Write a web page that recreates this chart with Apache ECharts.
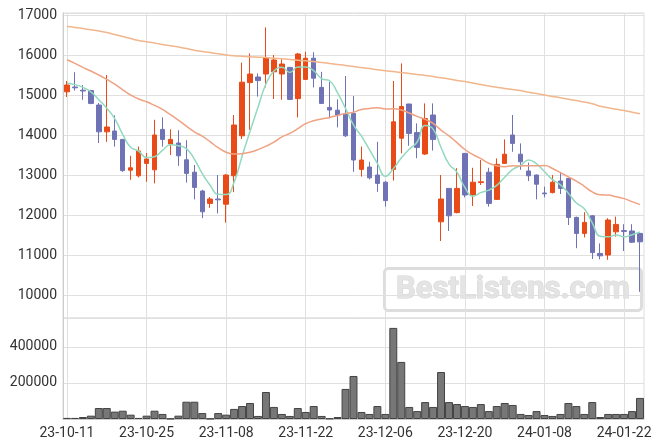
<!DOCTYPE html>
<html><head><meta charset="utf-8">
<script src="https://cdn.jsdelivr.net/npm/echarts@6/dist/echarts.min.js"></script>
<style>html,body{margin:0;padding:0;background:#fff}#c{width:663px;height:448px}</style>
</head><body><div id="c"></div>
<script>
const dates = ['23-10-11','23-10-12','23-10-13','23-10-16','23-10-17','23-10-18','23-10-19','23-10-20','23-10-23','23-10-24','23-10-25','23-10-26','23-10-27','23-10-30','23-10-31',
'23-11-01','23-11-02','23-11-03','23-11-06','23-11-07','23-11-08','23-11-09','23-11-10','23-11-13','23-11-14','23-11-15','23-11-16','23-11-17','23-11-20','23-11-21','23-11-22','23-11-23','23-11-24','23-11-27','23-11-28','23-11-29','23-11-30',
'23-12-01','23-12-04','23-12-05','23-12-06','23-12-07','23-12-08','23-12-11','23-12-12','23-12-13','23-12-14','23-12-15','23-12-18','23-12-19','23-12-20','23-12-21','23-12-22','23-12-26','23-12-27','23-12-28',
'24-01-02','24-01-03','24-01-04','24-01-05','24-01-08','24-01-09','24-01-10','24-01-11','24-01-12','24-01-15','24-01-16','24-01-17','24-01-18','24-01-19','24-01-22','24-01-23','24-01-24'];
const open = [15080,15200,15120,15110,14750,14080,14100,13890,13120,12980,13290,13130,14140,13775,13800,13380,13070,12600,12290,12400,12270,12980,13980,15310,15450,15525,15580,15525,15690,14910,15390,15920,15190,14690,14620,14525,14540,13140,13200,13000,12820,13140,13920,14775,14060,13525,14500,11830,12665,12060,13540,12500,12810,13070,12390,13290,14000,13520,13100,13000,12550,12560,12850,12915,11940,11540,11980,11040,11000,11580,11610,11600,11540];
const close = [15250,15180,15100,14790,14080,14200,13890,13110,13180,13600,13400,14000,13890,13890,13480,13040,12690,12080,12400,12380,13000,14250,15320,15525,15360,15925,15875,15775,14890,16025,15920,15420,14790,14625,14500,13980,13375,13375,12930,12790,12360,14330,14710,14040,13690,14410,13890,12400,11980,12665,12500,12820,12830,12290,13265,13520,13790,13330,12980,12770,12530,12820,12665,11940,11540,11815,11060,10980,11875,11765,11590,11320,11330];
const low = [14950,15110,14880,14770,13800,13830,13710,13080,12880,12940,12830,12790,13710,13500,13230,12810,12390,11920,12180,12040,11810,12570,13900,14130,14960,15190,14900,14880,14880,14440,15380,15190,14780,14420,14190,13950,13080,12960,12890,12580,12210,12860,13540,13730,13420,13500,13610,11350,11600,12040,12440,12225,12750,12210,12380,13280,13580,13130,12850,12390,12440,12540,12525,11750,11170,11440,10900,10890,10880,11460,11100,11300,10080];
const high = [15350,15570,15250,15130,14800,15500,14490,13900,13480,13710,13550,14380,14440,14140,14120,13870,13250,12630,12450,13000,13020,14500,15810,16040,15540,16690,16000,15890,15700,16050,16080,16070,15580,15330,14890,15475,14975,13710,13330,13830,12850,15350,15790,14780,14290,14790,14790,13000,12670,13170,13550,13180,13375,13180,13415,13890,14500,13790,13310,13010,12710,13000,13080,12920,11960,12070,12000,11290,11920,11960,11770,11770,11560];
const volume = [6000,6000,11000,18500,61000,61000,41000,46000,24000,6000,18500,46000,28000,2000,18500,96000,96000,33000,2000,33000,24000,56000,72000,89000,17000,150000,67000,28000,17000,61000,39000,72000,17000,3000,11000,167000,239000,39000,28000,72000,28000,506000,317000,67000,44000,94000,67000,261000,94000,83000,72000,67000,83000,44000,72000,89000,78000,28000,22000,44000,22000,17000,28000,89000,72000,28000,94000,11000,28000,28000,28000,44000,117000];
const ma5 = [15300,15260,15190,15080,14880,14670,14412,14014,13692,13596,13436,13458,13614,13756,13732,13660,13398,13036,12738,12518,12510,12822,13470,14095,14691,15276,15601,15692,15565,15698,15697,15606,15409,15356,15051,14663,14254,13971,13632,13290,12966,13157,13424,13646,13826,14236,14148,13686,13274,13069,12687,12473,12559,12621,12741,12945,13139,13239,13377,13278,13080,12886,12753,12545,12299,12156,11804,11467,11454,11499,11454,11506,11576];
const ma20 = [15880,15790,15690,15600,15500,15390,15270,15130,15000,14900,14830,14740,14640,14510,14370,14220,14080,13970,13830,13682,13569,13523,13534,13570,13634,13721,13820,13953,14039,14160,14286,14357,14402,14439,14490,14537,14571,14636,14662,14683,14651,14655,14624,14550,14466,14391,14291,14123,13977,13809,13638,13508,13410,13293,13232,13209,13229,13227,13230,13229,13237,13162,13059,12954,12847,12717,12576,12505,12499,12454,12409,12334,12259];
const maLong = [16710,16690,16660,16630,16600,16560,16510,16460,16410,16360,16330,16300,16260,16230,16200,16160,16120,16090,16060,16030,16000,15980,15970,15955,15945,15935,15920,15905,15890,15870,15855,15835,15815,15790,15765,15740,15710,15685,15660,15630,15605,15585,15565,15540,15515,15490,15460,15430,15400,15365,15335,15300,15260,15225,15195,15165,15140,15110,15070,15035,15000,14965,14930,14895,14860,14825,14780,14720,14680,14645,14610,14570,14530];

const candles = dates.map((d, i) => [open[i], close[i], low[i], high[i]]);
const chart = echarts.init(document.getElementById('c'));
const labelStyle = {color: '#333', fontSize: 14, fontFamily: 'Roboto', formatter: v => String(v)};
const gridLine = {lineStyle: {color: '#e0e0e0', width: 1}};
chart.setOption({
  animation: false,
  textStyle: {fontFamily: 'Roboto'},
  grid: [
    {left: 63, right: 19, top: 13, height: 305, show: true, borderColor: '#dddddd', borderWidth: 1},
    {left: 63, right: 19, top: 318, height: 101, show: true, borderColor: '#dddddd', borderWidth: 1}
  ],
  xAxis: [
    {type: 'category', gridIndex: 0, data: dates, boundaryGap: true,
     axisLine: {show: false}, axisTick: {show: false}, axisLabel: {show: false},
     splitLine: Object.assign({show: true, interval: 9, alignWithLabel: true}, gridLine)},
    {type: 'category', gridIndex: 1, data: dates, boundaryGap: true,
     axisLine: {show: true, lineStyle: {color: '#cccccc'}}, axisTick: {show: false},
     axisLabel: {interval: 9, margin: 7, color: '#333', fontSize: 14, fontFamily: 'Roboto'},
     splitLine: Object.assign({show: true, interval: 9, alignWithLabel: true}, gridLine)}
  ],
  yAxis: [
    {type: 'value', gridIndex: 0, min: 9425, max: 17050, splitNumber: 7, scale: true,
     axisLine: {show: true, lineStyle: {color: '#cccccc'}}, axisTick: {show: false},
     axisLabel: Object.assign({showMinLabel: false, showMaxLabel: false, margin: 6}, labelStyle),
     splitLine: gridLine},
    {type: 'value', gridIndex: 1, min: 0, max: 561000, interval: 200000,
     axisLine: {show: true, lineStyle: {color: '#cccccc'}}, axisTick: {show: false},
     axisLabel: Object.assign({showMinLabel: false, showMaxLabel: false, margin: 6}, labelStyle),
     splitLine: gridLine}
  ],
  graphic: [{
    type: 'group', left: 383, top: 267, silent: true, z: 0,
    children: [
      {type: 'rect', shape: {x: 1.5, y: 1.5, width: 257, height: 42, r: 4},
       style: {fill: 'rgba(255,255,255,0)', stroke: '#dddddd', lineWidth: 3}},
      {type: 'text', x: 130, y: 23,
       style: {text: 'BestListens.com', font: 'bold 31px Roboto', fill: '#e4e4e4', stroke: '#d4d4d4', lineWidth: 1,
               align: 'center', verticalAlign: 'middle', textAlign: 'center', textVerticalAlign: 'middle'}}
    ]
  }],
  series: [
    {type: 'candlestick', xAxisIndex: 0, yAxisIndex: 0, data: candles, barWidth: 5,
     itemStyle: {color: '#e84b17', color0: '#6f73b5', borderColor: '#e84b17', borderColor0: '#6f73b5', borderWidth: 1}},
    {type: 'line', name: 'MA5', xAxisIndex: 0, yAxisIndex: 0, data: ma5, smooth: true, showSymbol: false,
     lineStyle: {color: '#92d9bf', width: 1.5}, itemStyle: {color: '#92d9bf'}},
    {type: 'line', name: 'MA20', xAxisIndex: 0, yAxisIndex: 0, data: ma20, smooth: true, showSymbol: false,
     lineStyle: {color: '#efa282', width: 1.5}, itemStyle: {color: '#efa282'}},
    {type: 'line', name: 'MA60', xAxisIndex: 0, yAxisIndex: 0, data: maLong, smooth: true, showSymbol: false,
     lineStyle: {color: '#f2b68c', width: 1.5}, itemStyle: {color: '#f2b68c'}},
    {type: 'bar', xAxisIndex: 1, yAxisIndex: 1, data: volume, barCategoryGap: '0%',
     itemStyle: {color: '#777777', borderColor: '#444444', borderWidth: 1}}
  ]
});
</script></body></html>
